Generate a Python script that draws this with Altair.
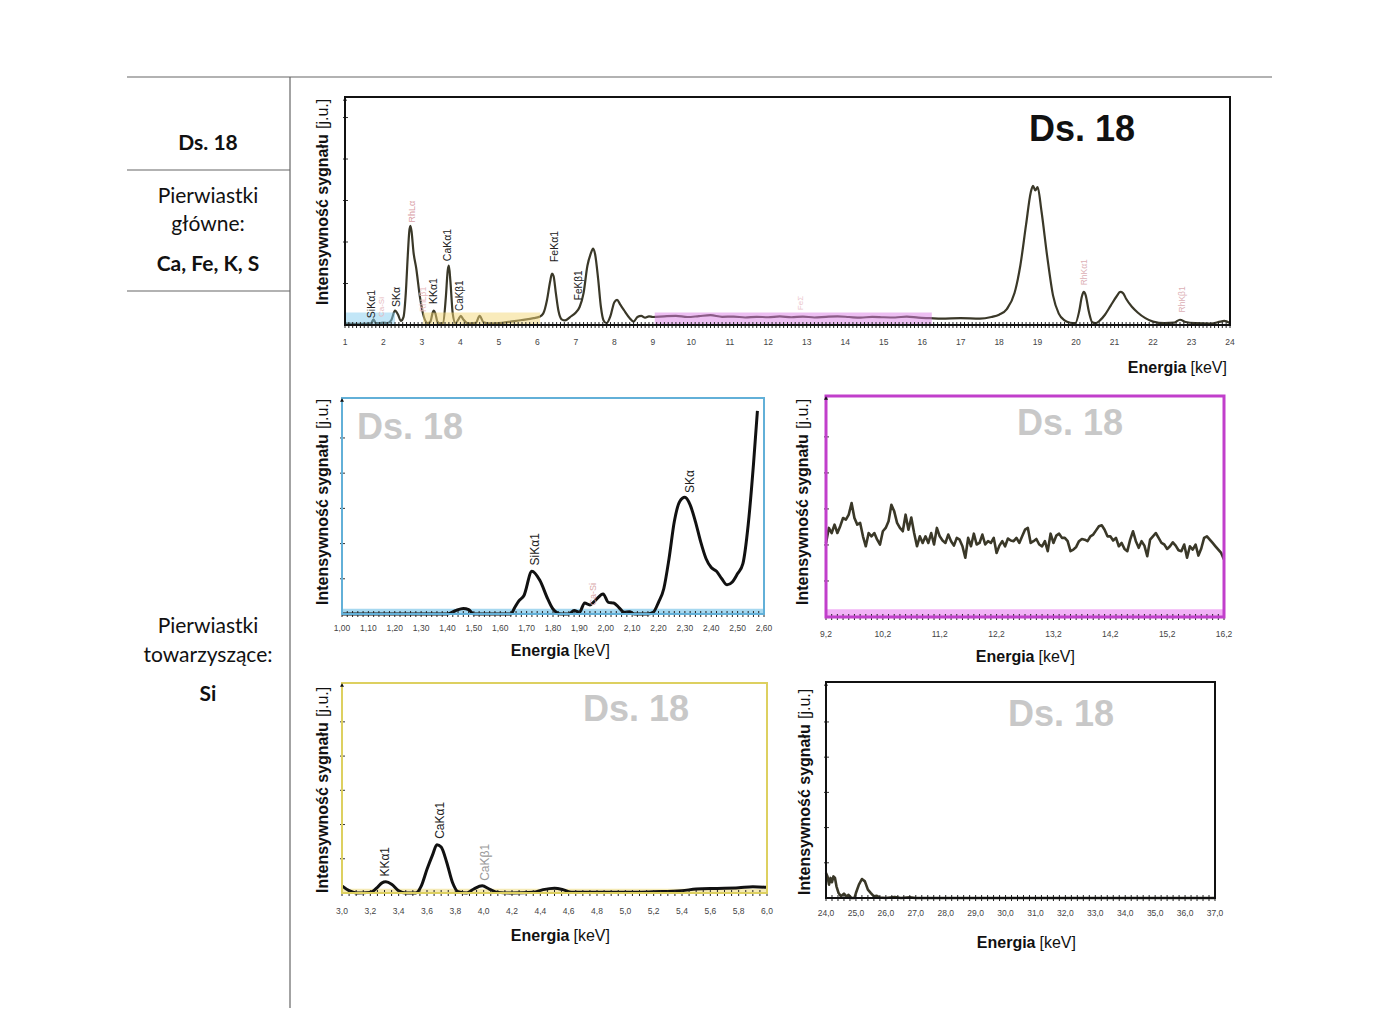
import altair as alt
import pandas as pd

FONT = "Liberation Sans"
TFONT = "Lato"
INK = "#3a3828"

# ---------------- data ----------------
# main spectrum (energy keV, signal a.u., 100 = top of frame)
main_energy = [1.0, 1.3, 1.6, 1.68, 1.74, 1.8, 1.9, 2.0, 2.1, 2.2,
               2.3, 2.38, 2.45, 2.52, 2.58, 2.63, 2.67, 2.70, 2.73, 2.78,
               2.85, 2.95, 3.05, 3.15, 3.22, 3.28, 3.31, 3.35, 3.4, 3.47,
               3.55, 3.62, 3.67, 3.70, 3.74, 3.8, 3.87, 3.95, 4.01, 4.07,
               4.2, 4.4, 4.5, 4.6, 4.75, 5.0, 5.3, 5.6, 5.9, 6.05,
               6.15, 6.25, 6.33, 6.38, 6.42, 6.48, 6.55, 6.63, 6.72, 6.85,
               7.0, 7.1, 7.2, 7.3, 7.38, 7.45, 7.5, 7.58, 7.65, 7.72,
               7.8, 7.9, 8.0, 8.07, 8.15, 8.25, 8.4, 8.5, 8.6, 8.7,
               8.8, 8.9, 9.0, 9.3, 9.6, 9.9, 10.2, 10.5, 10.8, 11.1,
               11.4, 11.7, 12.0, 12.3, 12.6, 12.9, 13.2, 13.5, 13.8, 14.1,
               14.4, 14.7, 15.0, 15.3, 15.6, 15.9, 16.2, 16.5, 17.0, 17.5,
               17.8, 18.0, 18.2, 18.4, 18.55, 18.7, 18.82, 18.88, 18.94, 19.0,
               19.1, 19.25, 19.4, 19.55, 19.7, 19.85, 19.98, 20.08, 20.15, 20.2,
               20.25, 20.33, 20.42, 20.5, 20.62, 20.75, 20.9, 21.05, 21.15, 21.22,
               21.3, 21.45, 21.6, 21.8, 22.0, 22.3, 22.55, 22.7, 22.85, 23.1,
               23.5, 23.75, 23.85, 24.0]
main_signal = [0.7, 0.5, 0.6, 0.8, 2.5, 0.8, 0.8, 1.0, 0.8, 2.0,
               6.3, 4.5, 1.8, 3.5, 14, 30, 41, 43.5, 41, 32,
               25, 12, 3.5, 0.8, 1.5, 5.5, 6.3, 5.0, 1.5, 0.7,
               1.0, 12, 24, 26, 19, 5, 0.8, 2.5, 4.0, 2.5,
               0.7, 1.0, 4.0, 1.2, 0.7, 0.8, 1.5, 2.2, 3.0, 3.6,
               5, 11, 19, 22.5, 21.5, 14, 6, 2.5, 2.0, 3.5,
               5.5, 8, 14, 26, 31, 33.5, 31, 20, 8, 2,
               0.8, 4, 10, 11, 9, 6.5, 3, 1.5, 3.5, 4,
               3.2, 3.8, 3.5, 3.8, 4.0, 3.5, 3.9, 4.3, 3.6, 3.7,
               3.3, 3.6, 3.4, 3.8, 3.4, 3.7, 3.3, 3.6, 3.8, 3.5,
               3.2, 3.6, 3.4, 3.3, 3.7, 3.2, 3.0, 2.8, 3.0, 2.8,
               3.5, 4.5, 7, 14, 26, 44, 58, 61, 59, 60.5,
               50, 30, 13, 5, 2, 1, 0.8, 6, 12.5, 14.5,
               13, 6, 1.2, 0.8, 2, 4.5, 8.5, 12.5, 14.5, 14,
               11.5, 8, 5.5, 3, 1.5, 0.8, 1.0, 2.3, 1.3, 0.8,
               0.6, 1.5, 1.8, 0.8]
main_label_text = ["SiKα1", "Ca-Si", "SKα", "RhLα", "RhLβ1", "KKα1", "CaKα1", "CaKβ1",
                   "FeKα1", "FeKβ1", "FeΣ", "RhKα1", "RhKβ1"]
main_label_energy = [1.70, 1.95, 2.34, 2.73, 3.03, 3.31, 3.68, 4.00, 6.45, 7.08, 12.84, 20.21, 22.75]
main_label_signal = [3.0, 3.5, 7.9, 45.0, 5.7, 9.2, 28.0, 6.1, 27.6, 10.9, 6.5, 17.4, 5.5]
main_label_color = ["#222", "#e6b8bc", "#222", "#d9a0a6", "#e6b8bc", "#222", "#222", "#222",
                    "#222", "#222", "#ecc6cc", "#dcb0b6", "#dcb0b6"]
main_label_size = [10.5, 8, 10.5, 9, 8.5, 10.5, 10.5, 10, 10.5, 10, 8, 8.5, 8.5]
main_band_start = [1.0, 3.03, 9.05]
main_band_end = [2.3, 6.07, 16.25]
main_band_top = [5.5, 5.5, 5.5]
main_band_color = ["#86cdf0", "#f3d877", "#dc80e6"]
main_tick_labels = [str(i) for i in range(1, 25)]

# Si window 1.00 - 2.60 keV
si_energy = [1.00, 1.20, 1.40, 1.43, 1.46, 1.48, 1.50, 1.64, 1.655, 1.67,
             1.69, 1.72, 1.75, 1.78, 1.80, 1.83, 1.86, 1.88, 1.90, 1.92,
             1.94, 1.96, 1.99, 2.01, 2.03, 2.05, 2.07, 2.09, 2.11, 2.16,
             2.18, 2.20, 2.22, 2.24, 2.26, 2.28, 2.30, 2.32, 2.34, 2.36,
             2.38, 2.40, 2.42, 2.44, 2.46, 2.48, 2.50, 2.52, 2.54, 2.56,
             2.575]
si_signal = [0, 0, 0, 1.5, 2.6, 2.0, 0, 0, 3.0, 6.0,
             8.6, 19.8, 15.6, 7.0, 2.3, 0, 0, 1.6, 0.8, 5.1,
             4.2, 6.2, 9.3, 5.4, 5.1, 3.0, 0.8, 1.0, 0, 0,
             0.8, 5.4, 11.7, 25.7, 42.8, 52.0, 54.0, 50.5, 42.8, 33.4,
             25.7, 21.5, 19.8, 16.3, 13.5, 14.8, 18.7, 23.3, 41.2, 69.2,
             94.0]
si_label_text = ["SiKα1", "Ca-Si", "SKα"]
si_label_energy = [1.73, 1.95, 2.32]
si_label_signal = [22.5, 3.9, 56.0]
si_label_color = ["#222", "#d8a8a8", "#222"]
si_label_size = [12, 9, 12]
si_tick_labels = ["1,00", "1,10", "1,20", "1,30", "1,40", "1,50", "1,60", "1,70", "1,80",
                  "1,90", "2,00", "2,10", "2,20", "2,30", "2,40", "2,50", "2,60"]

# 9.2 - 16.2 keV window, 0.05 keV channels
pur_signal = [33.5, 40.3, 38.0, 41.8, 38.0, 41.1, 44.8, 44.1, 46.3, 51.6,
              44.8, 41.8, 42.6, 36.5, 32.0, 38.0, 36.5, 38.0, 35.0, 32.8,
              38.8, 40.3, 43.3, 50.8, 47.8, 42.6, 40.3, 38.8, 46.3, 39.5,
              45.0, 38.0, 32.0, 36.5, 33.5, 36.5, 33.5, 38.0, 32.8, 40.3,
              36.5, 34.6, 33.5, 37.3, 34.3, 32.3, 35.8, 35.0, 32.0, 26.8,
              35.8, 32.0, 37.7, 32.8, 33.5, 37.3, 32.8, 34.3, 33.5, 35.8,
              29.0, 32.3, 34.3, 32.0, 35.5, 34.6, 34.3, 35.8, 33.5, 36.5,
              39.5, 40.3, 33.5, 34.3, 35.3, 32.8, 32.0, 34.3, 29.8, 37.7,
              33.5, 36.8, 37.7, 35.8, 35.8, 34.3, 29.8, 30.5, 31.7, 34.3,
              35.3, 35.0, 34.3, 36.5, 37.3, 39.2, 41.1, 41.5, 39.5, 36.5,
              36.5, 34.6, 35.8, 32.0, 33.5, 30.8, 29.8, 35.0, 38.8, 34.3,
              31.3, 34.3, 32.3, 27.5, 35.0, 36.5, 38.0, 35.8, 33.5, 32.8,
              30.8, 32.0, 33.8, 32.3, 30.2, 29.8, 32.8, 26.8, 32.0, 30.5,
              32.8, 27.8, 31.0, 35.8, 36.5, 35.0, 33.5, 32.0, 30.5, 29.0,
              26.0]
pur_energy = [round(9.2 + 0.05 * i, 3) for i in range(len(pur_signal))]
pur_tick_labels = ["9,2", "10,2", "11,2", "12,2", "13,2", "14,2", "15,2", "16,2"]

# 3.0 - 6.0 keV window
yel_energy = [3.00, 3.05, 3.10, 3.20, 3.25, 3.28, 3.31, 3.35, 3.40, 3.45,
              3.52, 3.56, 3.60, 3.64, 3.67, 3.70, 3.74, 3.78, 3.82, 3.88,
              3.93, 3.99, 4.04, 4.10, 4.20, 4.35, 4.42, 4.50, 4.56, 4.62,
              4.80, 5.00, 5.20, 5.40, 5.50, 5.65, 5.80, 5.90, 6.00]
yel_signal = [3.4, 1.1, 0.0, 0.3, 2.7, 4.7, 5.3, 4.2, 1.1, 0.0,
              0.0, 3.4, 11.3, 18.3, 23.0, 21.9, 14.4, 5.0, 0.6, 0.0,
              1.9, 3.4, 1.9, 0.3, 0.0, 0.3, 1.6, 2.3, 1.6, 0.3,
              0.3, 0.3, 0.6, 1.1, 1.9, 2.2, 2.5, 3.0, 2.7]
yel_label_text = ["KKα1", "CaKα1", "CaKβ1"]
yel_label_energy = [3.30, 3.69, 4.01]
yel_label_signal = [7.8, 25.8, 5.8]
yel_label_color = ["#222", "#222", "#9a9a9a"]
yel_label_size = [12, 12, 12]
yel_tick_labels = ["3,0", "3,2", "3,4", "3,6", "3,8", "4,0", "4,2", "4,4", "4,6", "4,8",
                   "5,0", "5,2", "5,4", "5,6", "5,8", "6,0"]

# 24 - 37 keV window
blk_energy = [24.0, 24.05, 24.1, 24.15, 24.2, 24.25, 24.3, 24.35, 24.42, 24.5,
              24.6, 24.7, 24.75, 24.85, 24.95, 25.0, 25.1, 25.2, 25.3, 25.4,
              25.5, 25.6, 25.7, 25.8, 26.0, 26.3, 26.5, 26.8, 27.0, 30.0, 33.0, 37.0]
blk_signal = [11.6, 10.0, 6.2, 9.3, 7.3, 10.0, 9.3, 5.4, 2.3, 0.8,
              2.0, 0.5, 1.5, 0.0, 0.0, 2.3, 6.2, 8.8, 7.7, 3.9,
              2.3, 0.8, 1.0, 0.2, 0.0, 0.5, 0.0, 0.3, 0.0, 0.0, 0.0, 0.0]
blk_tick_labels = ["24,0", "25,0", "26,0", "27,0", "28,0", "29,0", "30,0", "31,0", "32,0",
                   "33,0", "34,0", "35,0", "36,0", "37,0"]

# ---------------- helpers ----------------
ONE = alt.Data(values=[{"k": 1}])


def P(v):
    return v - 8


def text_mark(s, x, y, size, weight="normal", color="#000", align="center", angle=0, font=FONT):
    return alt.Chart(ONE).mark_text(
        text=s, fontSize=size, fontWeight=weight, color=color, align=align,
        baseline="middle", angle=angle, font=font
    ).encode(x=alt.value(P(x)), y=alt.value(P(y)))


def hrule(x1, x2, y, color="#666", w=1.2):
    return alt.Chart(ONE).mark_rule(color=color, strokeWidth=w).encode(
        x=alt.value(P(x1)), x2=alt.value(P(x2)), y=alt.value(P(y)))


def vrule(x, y1, y2, color="#666", w=1.2):
    return alt.Chart(ONE).mark_rule(color=color, strokeWidth=w).encode(
        x=alt.value(P(x)), y=alt.value(P(y1)), y2=alt.value(P(y2)))


def steps(a, b, s):
    n = int(round((b - a) / s))
    return [round(a + s * i, 4) for i in range(n + 1)]


def panel(box, xdom, energy, signal, line_color, line_w, interp, frame_color, frame_w,
          tick_labels, tick_y, ruler_step, yticks, labels=None, bands=None, band_over=False,
          band_opacity=1.0):
    x0, y0, x1, y1 = box
    xs = alt.Scale(domain=xdom, range=[P(x0), P(x1)], nice=False, zero=False)
    ys = alt.Scale(domain=[0, 100], range=[P(y1), P(y0)], nice=False, zero=False)
    layers = []
    band_layer = None
    if bands is not None:
        bdf = pd.DataFrame({"E": bands[0], "E2": bands[1], "v": [0] * len(bands[0]),
                            "v2": bands[2], "c": bands[3]})
        band_layer = alt.Chart(bdf).mark_rect(opacity=band_opacity).encode(
            x=alt.X("E:Q", scale=xs, axis=None), x2="E2:Q",
            y=alt.Y("v:Q", scale=ys, axis=None), y2="v2:Q",
            color=alt.Color("c:N", scale=None, legend=None))
        if not band_over:
            layers.append(band_layer)
    df = pd.DataFrame({"E": energy, "v": signal})
    layers.append(alt.Chart(df).mark_line(color=line_color, strokeWidth=line_w,
                                          interpolate=interp, strokeJoin="round").encode(
        x=alt.X("E:Q", scale=xs, axis=None), y=alt.Y("v:Q", scale=ys, axis=None)))
    if band_layer is not None and band_over:
        layers.append(band_layer)
    # ruler ticks along baseline
    rdf = pd.DataFrame({"E": steps(xdom[0], xdom[1], ruler_step)})
    layers.append(alt.Chart(rdf).mark_rule(color="#222", strokeWidth=1).encode(
        x=alt.X("E:Q", scale=xs, axis=None),
        y=alt.value(P(y1) - 3), y2=alt.value(P(y1) + 3)))
    # y ticks
    ydf = pd.DataFrame({"v": yticks})
    layers.append(alt.Chart(ydf).mark_rule(color="#333", strokeWidth=1).encode(
        y=alt.Y("v:Q", scale=ys, axis=None),
        x=alt.value(P(x0) - 2), x2=alt.value(P(x0) + 3)))
    # frame
    fdf = pd.DataFrame({"E": [xdom[0]], "E2": [xdom[1]], "v": [0], "v2": [100]})
    layers.append(alt.Chart(fdf).mark_rect(fillOpacity=0, stroke=frame_color,
                                           strokeWidth=frame_w).encode(
        x=alt.X("E:Q", scale=xs, axis=None), x2="E2:Q",
        y=alt.Y("v:Q", scale=ys, axis=None), y2="v2:Q"))
    # arrow on y axis
    layers.append(alt.Chart(ONE).mark_point(shape="triangle-up", filled=True, size=16,
                                            color="#111", opacity=1).encode(
        x=alt.value(P(x0)), y=alt.value(P(y0) + 2)))
    # tick labels
    tdf = pd.DataFrame({"E": [float(s.replace(",", ".")) for s in tick_labels], "t": tick_labels})
    layers.append(alt.Chart(tdf).mark_text(fontSize=8.5, color="#444", font=FONT,
                                           baseline="middle").encode(
        x=alt.X("E:Q", scale=xs, axis=None), y=alt.value(P(tick_y)), text="t:N"))
    # peak labels
    if labels is not None:
        ldf = pd.DataFrame({"E": labels[1], "v": labels[2], "t": labels[0],
                            "c": labels[3], "s": labels[4]})
        layers.append(alt.Chart(ldf).mark_text(angle=270, align="left", baseline="middle",
                                               font=FONT, dx=0).encode(
            x=alt.X("E:Q", scale=xs, axis=None), y=alt.Y("v:Q", scale=ys, axis=None),
            text="t:N", color=alt.Color("c:N", scale=None, legend=None),
            size=alt.Size("s:Q", scale=None, legend=None)))
    return alt.layer(*layers)


def titles(xsplit, xt_y, ytx, yt_bottom, ds_x, ds_y, ds_color, ds_align="left"):
    out = [
        text_mark("Energia", xsplit - 2, xt_y, 16, "bold", "#111", "right"),
        text_mark("[keV]", xsplit + 2, xt_y, 16, "normal", "#111", "left"),
        text_mark("Intensywność sygnału", ytx, yt_bottom, 16, "bold", "#111", "left", 270),
        text_mark("[j.u.]", ytx, yt_bottom - 176, 16, "normal", "#111", "left", 270),
        text_mark("Ds. 18", ds_x, ds_y, 36, "bold", ds_color, ds_align),
    ]
    return out


# ---------------- panels ----------------
main = panel((345, 97, 1230, 325), [1, 24], main_energy, main_signal, INK, 2.2, "monotone",
             "#111", 2, main_tick_labels, 342, 0.1, [18.2, 36.4, 54.6, 72.8, 91.0],
             labels=(main_label_text, main_label_energy, main_label_signal, main_label_color,
                     main_label_size),
             bands=(main_band_start, main_band_end, main_band_top, main_band_color),
             band_over=True, band_opacity=0.5)

si = panel((342, 398, 764, 614), [1.0, 2.6], si_energy, si_signal, "#111", 3, "monotone",
           "#62b0d8", 2, si_tick_labels, 628, 0.02, [16.3, 32.6, 48.9, 65.2, 81.5],
           labels=(si_label_text, si_label_energy, si_label_signal, si_label_color, si_label_size),
           bands=([1.0], [2.6], [2.4], ["#a6d8f0"]))

pur = panel((826, 396, 1224, 617), [9.2, 16.2], pur_energy, pur_signal, INK, 2.6, "linear",
            "#c13fcb", 3, pur_tick_labels, 634, 0.1, [16.3, 32.6, 48.9, 65.2, 81.5],
            bands=([9.2], [16.2], [3.5], ["#f2b3f6"]))

yel = panel((342, 683, 767, 893), [3.0, 6.0], yel_energy, yel_signal, "#111", 3, "monotone",
            "#ddd060", 2, yel_tick_labels, 911, 0.05, [16.3, 32.6, 48.9, 65.2, 81.5],
            labels=(yel_label_text, yel_label_energy, yel_label_signal, yel_label_color,
                    yel_label_size),
            bands=([3.0], [6.0], [2.0], ["#f5eab5"]))

blk = panel((826, 682, 1215, 898), [24, 37], blk_energy, blk_signal, INK, 2.6, "linear",
            "#111", 2, blk_tick_labels, 913, 0.2, [16.3, 32.6, 48.9, 65.2, 81.5])

deco = []
deco += titles(1188.5, 368, 323, 305, 1082, 130, "#111", "center")
deco += titles(571.5, 651, 323, 605, 357, 428, "#c8c8c8")
deco += titles(1036.5, 657, 803, 605, 1017, 424, "#c8c8c8")
deco += titles(571.5, 936, 323, 893, 583, 710, "#c8c8c8")
deco += titles(1037.5, 943, 805, 895, 1008, 715, "#c8c8c8")

# table on the left
deco += [
    hrule(127, 1272, 77),
    vrule(290, 77, 1008),
    hrule(127, 290, 170),
    hrule(127, 290, 291),
    text_mark("Ds. 18", 208, 144, 21, "bold", "#111", "center", font=TFONT),
    text_mark("Pierwiastki", 208, 197, 21, "normal", "#111", "center", font=TFONT),
    text_mark("główne:", 208, 225, 21, "normal", "#111", "center", font=TFONT),
    text_mark("Ca, Fe, K, S", 208, 265, 21, "bold", "#111", "center", font=TFONT),
    text_mark("Pierwiastki", 208, 627, 21, "normal", "#111", "center", font=TFONT),
    text_mark("towarzyszące:", 208, 656, 21, "normal", "#111", "center", font=TFONT),
    text_mark("Si", 208, 695, 21, "bold", "#111", "center", font=TFONT),
]

chart = alt.layer(main, si, pur, yel, blk, *deco).resolve_scale(
    x="independent", y="independent"
).properties(
    width=1384, height=1000, padding=0, background="white"
).configure_view(stroke=None)

chart.save("out.html", embed_options={"renderer": "svg", "actions": False})
